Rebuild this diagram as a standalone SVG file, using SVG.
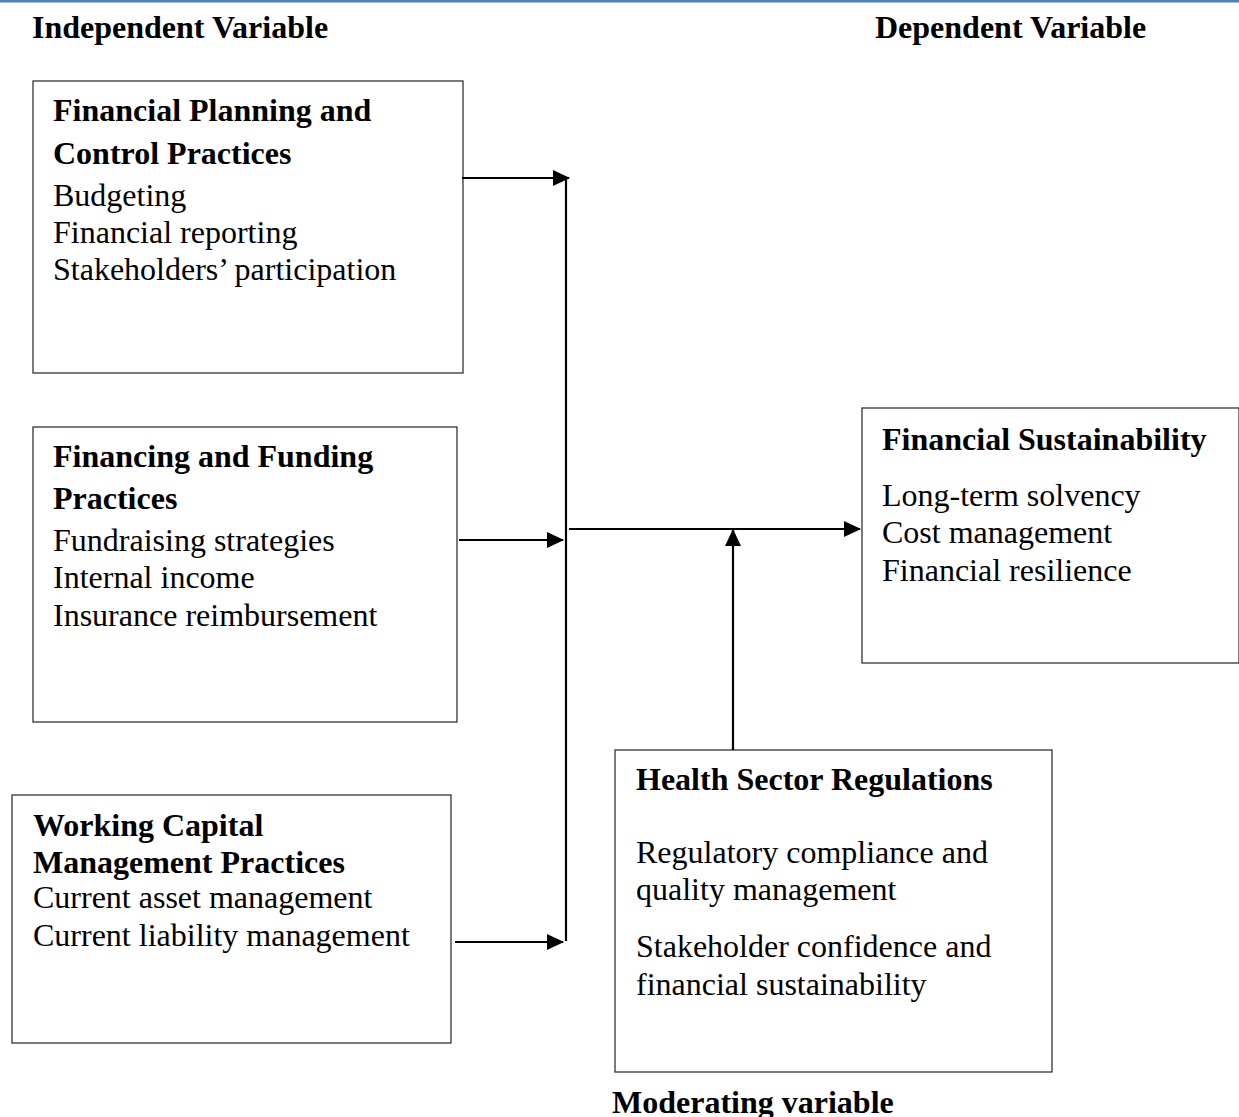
<svg xmlns="http://www.w3.org/2000/svg" width="1239" height="1117" viewBox="0 0 1239 1117">
<defs>
<style>
text{font-family:"Liberation Serif","Times New Roman",serif;font-size:32px;fill:#000}
.b{font-weight:bold}
.box{fill:#fff;stroke:#333;stroke-width:1.3}
.ln{stroke:#000;stroke-width:2.2;fill:none}
</style>
<marker id="ah2" markerWidth="17" markerHeight="16" refX="16" refY="8" orient="auto" markerUnits="userSpaceOnUse" viewBox="0 0 17 16">
<path d="M0,0 L17,8 L0,16 z" fill="#000"/>
</marker>
</defs>
<rect x="0" y="0" width="1239" height="2.5" fill="#4f81bd"/>
<text class="b" x="32" y="38">Independent Variable</text>
<text class="b" x="875" y="38">Dependent Variable</text>
<g id="n1">
<rect class="box" x="33" y="81" width="430" height="292"/>
<text class="b" x="53" y="121">Financial Planning and</text>
<text class="b" x="53" y="164">Control Practices</text>
<text x="53" y="206">Budgeting</text>
<text x="53" y="243">Financial reporting</text>
<text x="53" y="280">Stakeholders’ participation</text>
</g>
<g id="n2">
<rect class="box" x="33" y="427" width="424" height="295"/>
<text class="b" x="53" y="467">Financing and Funding</text>
<text class="b" x="53" y="509">Practices</text>
<text x="53" y="551">Fundraising strategies</text>
<text x="53" y="588">Internal income</text>
<text x="53" y="626">Insurance reimbursement</text>
</g>
<g id="n3">
<rect class="box" x="12" y="795" width="439" height="248"/>
<text class="b" x="33" y="836">Working Capital</text>
<text class="b" x="33" y="873">Management Practices</text>
<text x="33" y="908">Current asset management</text>
<text x="33" y="946">Current liability management</text>
</g>
<g id="n4">
<rect class="box" x="862" y="408" width="377" height="255"/>
<text class="b" x="882" y="450">Financial Sustainability</text>
<text x="882" y="506">Long-term solvency</text>
<text x="882" y="543">Cost management</text>
<text x="882" y="581">Financial resilience</text>
</g>
<g id="n5">
<rect class="box" x="615" y="750" width="437" height="322"/>
<text class="b" x="636" y="790">Health Sector Regulations</text>
<text x="636" y="863">Regulatory compliance and</text>
<text x="636" y="900">quality management</text>
<text x="636" y="957">Stakeholder confidence and</text>
<text x="636" y="995">financial sustainability</text>
<text class="b" x="612" y="1113">Moderating variable</text>
</g>
<g id="connectors">
<line class="ln" x1="566" y1="178" x2="566" y2="941"/>
<line class="ln" x1="462" y1="178" x2="569" y2="178" marker-end="url(#ah2)"/>
<line class="ln" x1="459" y1="540" x2="563" y2="540" marker-end="url(#ah2)"/>
<line class="ln" x1="455" y1="942" x2="563" y2="942" marker-end="url(#ah2)"/>
<line class="ln" x1="569" y1="529" x2="860" y2="529" marker-end="url(#ah2)"/>
<line class="ln" x1="733" y1="750" x2="733" y2="530" marker-end="url(#ah2)"/>
</g>
</svg>
